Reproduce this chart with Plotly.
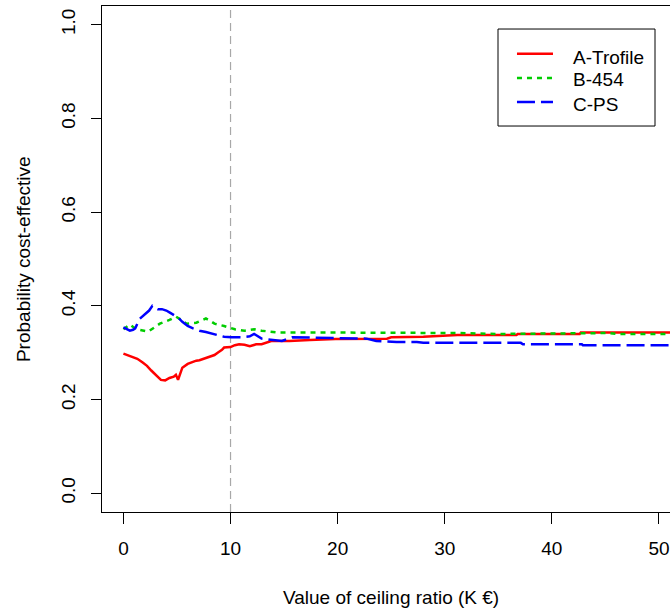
import plotly.graph_objects as go

# ---- data ----
a_x = [0, 0.4, 0.9, 1.3, 1.8, 2.2, 2.6, 3.0, 3.5, 3.9, 4.3, 4.7, 4.9, 5.1, 5.5, 6.0, 6.3, 6.8, 7.1, 7.6,
       8.05, 8.5, 8.8, 9.2, 9.4, 10.0, 10.4, 10.8, 11.3, 11.8, 12.4, 12.9, 13.8, 15.5, 17.4, 19.8, 24.6,
       25.0, 28.0, 29.9, 31.2, 36.7, 36.8, 42.6, 42.7, 52]
a_y = [0.298, 0.295, 0.291, 0.287, 0.279, 0.272, 0.262, 0.254, 0.242, 0.241, 0.246, 0.249, 0.253, 0.242,
       0.268, 0.276, 0.279, 0.283, 0.284, 0.288, 0.290, 0.295, 0.300, 0.306, 0.311, 0.312, 0.316, 0.318,
       0.317, 0.314, 0.318, 0.318, 0.325, 0.325, 0.327, 0.329, 0.330, 0.333, 0.334, 0.337, 0.338, 0.338,
       0.340, 0.340, 0.343, 0.343]

b_x = [0, 0.6, 1.2, 1.8, 2.3, 2.9, 3.4, 4.3, 4.9, 5.4, 5.9, 6.8, 7.7, 8.1, 8.5, 9.4, 10.4, 11.3, 12.2,
       12.9, 14.5, 20, 25, 31.4, 35, 40, 45.4, 46, 52]
b_y = [0.350, 0.360, 0.350, 0.347, 0.345, 0.354, 0.362, 0.370, 0.377, 0.370, 0.362, 0.364, 0.373, 0.368,
       0.362, 0.357, 0.350, 0.347, 0.350, 0.347, 0.343, 0.343, 0.343, 0.342, 0.340, 0.341, 0.342, 0.340,
       0.340]

c_x = [0, 0.3, 0.6, 0.9, 1.1, 1.5, 2.1, 2.4, 2.7, 3.0, 3.2, 3.6, 4.0, 4.3, 4.7, 5.1, 5.5, 6.0, 6.5, 7.1,
       7.7, 8.5, 9.0, 9.4, 10.1, 11.0, 11.8, 12.2, 12.9, 13.8, 14.8, 15.8, 20, 22.7, 23.6, 25.5, 27.4,
       28.0, 37.1, 37.3, 42.8, 42.9, 52]
c_y = [0.354, 0.350, 0.347, 0.349, 0.352, 0.372, 0.383, 0.390, 0.400, 0.395, 0.393, 0.393, 0.390, 0.386,
       0.381, 0.375, 0.366, 0.357, 0.352, 0.347, 0.344, 0.340, 0.337, 0.334, 0.333, 0.333, 0.335, 0.340,
       0.330, 0.328, 0.325, 0.333, 0.331, 0.330, 0.325, 0.323, 0.323, 0.321, 0.321, 0.318, 0.318, 0.316,
       0.316]

series_names = ["A-Trofile", "B-454", "C-PS"]
series_colors = ["#FF0000", "#00CD00", "#0000FF"]
series_dashes = ["solid", "5px,5px", "18px,6px"]
x_ticks = [0, 10, 20, 30, 40, 50]
y_ticks = [0.0, 0.2, 0.4, 0.6, 0.8, 1.0]
y_tick_labels = ["0.0", "0.2", "0.4", "0.6", "0.8", "1.0"]
ceiling_ratio = 10

FONT = "Liberation Sans, Arial, sans-serif"
FS = 19
LW = 2.5

fig = go.Figure()
for xs, ys, name, col, dash in zip([a_x, b_x, c_x], [a_y, b_y, c_y], series_names,
                                   series_colors, series_dashes):
    fig.add_trace(go.Scatter(x=xs, y=ys, mode="lines", name=name, showlegend=False,
                             line=dict(color=col, width=LW, dash=dash)))

fig.add_shape(type="line", xref="x", yref="paper", x0=ceiling_ratio, x1=ceiling_ratio, y0=0, y1=1,
              line=dict(color="#A8A8A8", width=1.2, dash="8px,5px"), layer="below")

# ---- legend box (R-style), in paper coordinates ----
legend_box = dict(x0=0.6972, x1=0.9736, y0=0.7628, y1=0.9545)
legend_line_x = (0.7306, 0.7940)
legend_text_x = 0.8257
legend_line_rows = [0.9054, 0.8577, 0.8103]
legend_text_rows = [0.8992, 0.8538, 0.8063]

fig.add_shape(type="rect", xref="paper", yref="paper", **legend_box,
              line=dict(color="black", width=1), fillcolor="white", layer="above")
annotations = []
for name, col, dash, ly, ty in zip(series_names, series_colors, series_dashes,
                                   legend_line_rows, legend_text_rows):
    fig.add_shape(type="line", xref="paper", yref="paper",
                  x0=legend_line_x[0], x1=legend_line_x[1], y0=ly, y1=ly,
                  line=dict(color=col, width=LW, dash=dash), layer="above")
    annotations.append(dict(text=name, xref="paper", yref="paper", x=legend_text_x, y=ty,
                            xanchor="left", yanchor="middle", showarrow=False,
                            font=dict(size=FS)))

annotations += [
    dict(text="Value of ceiling ratio (K €)", xref="paper", yref="paper",
         x=0.509, y=-0.168, xanchor="center", yanchor="middle", showarrow=False,
         font=dict(size=FS)),
    dict(text="Probability cost-effective", xref="paper", yref="paper",
         x=-0.139, y=0.5, xanchor="center", yanchor="middle", showarrow=False,
         textangle=-90, font=dict(size=FS)),
]

fig.update_layout(
    width=670, height=610,
    margin=dict(l=102, r=0, t=6, b=98, autoexpand=False),
    paper_bgcolor="white", plot_bgcolor="white",
    font=dict(family=FONT, size=FS, color="black"),
    showlegend=False,
    xaxis=dict(range=[-2, 51.03], tickmode="array", tickvals=x_ticks, automargin=False,
               showline=True, linecolor="black", linewidth=1, mirror=True,
               ticks="outside", ticklen=11, tickcolor="black", tickwidth=1,
               showgrid=False, zeroline=False, ticklabelstandoff=8),
    yaxis=dict(range=[-0.04, 1.04], tickmode="array", tickvals=y_ticks, ticktext=y_tick_labels,
               automargin=False,
               showline=True, linecolor="black", linewidth=1, mirror=False,
               ticks="outside", ticklen=10, tickcolor="black", tickwidth=1, tickangle=-90,
               showgrid=False, zeroline=False, ticklabelstandoff=8),
    annotations=annotations,
)

fig.write_html("out.html", config={"displayModeBar": False},
               post_script="document.body.style.margin='0';document.body.style.overflow='hidden';")
